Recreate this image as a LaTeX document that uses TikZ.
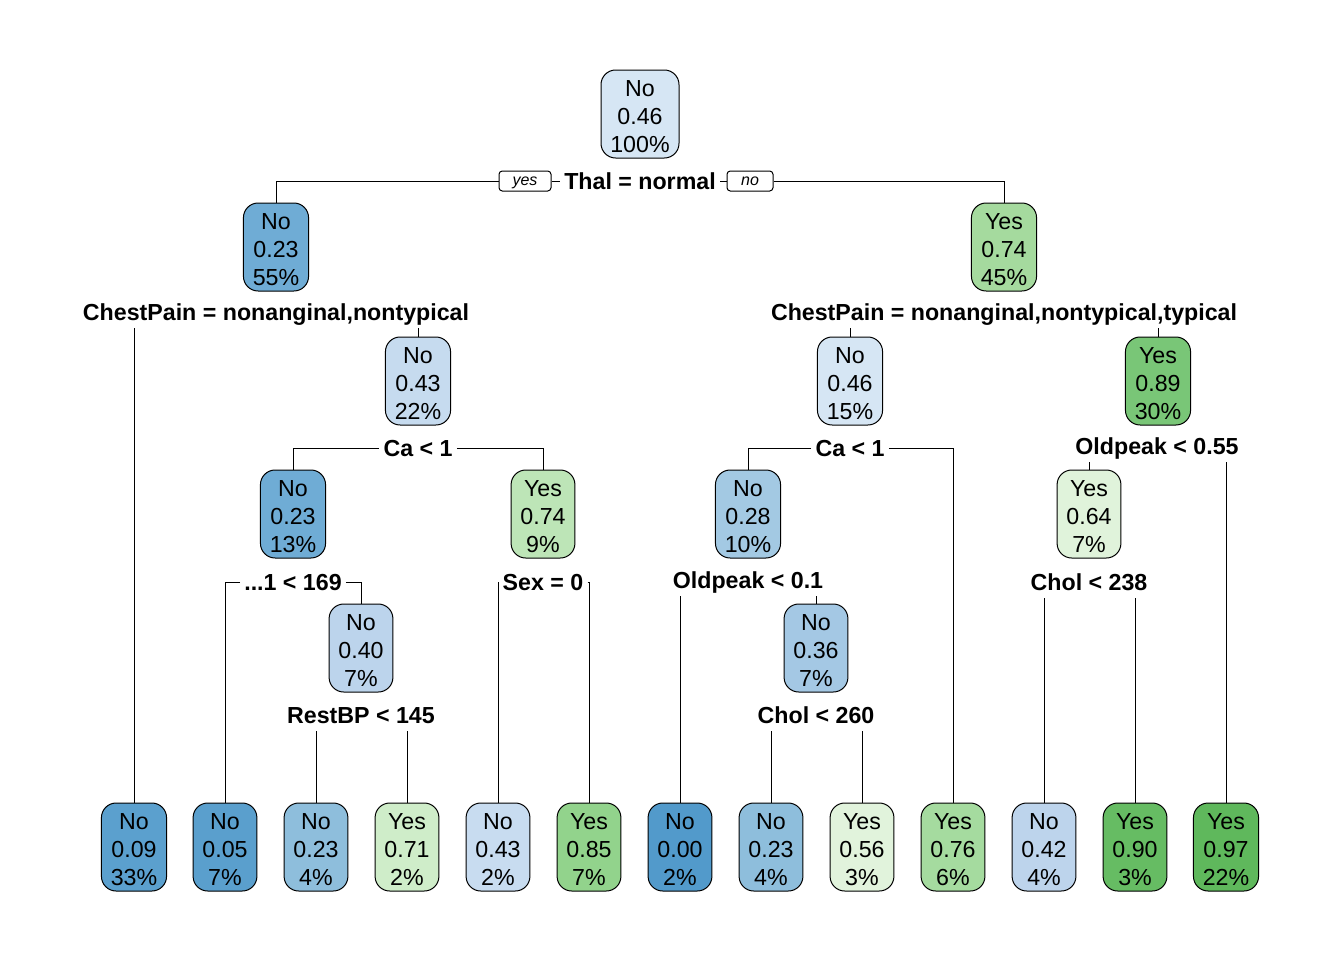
\documentclass[tikz,border=0pt]{standalone}
\usepackage{fontspec}
\setmainfont{Liberation Sans}
\newcommand{\fsz}{\fontsize{17.4}{21}\selectfont}
\newcommand{\ynfs}{\fontsize{12}{14}\selectfont}
\newcommand{\tstr}{\rule{0pt}{16pt}}
\definecolor{cA}{HTML}{D6E6F4}
\definecolor{cB}{HTML}{6FACD5}
\definecolor{cC}{HTML}{A5DA9E}
\definecolor{cD}{HTML}{C6DBEF}
\definecolor{cE}{HTML}{79C677}
\definecolor{cF}{HTML}{BDE5B7}
\definecolor{cG}{HTML}{A3C9E3}
\definecolor{cH}{HTML}{E0F3DB}
\definecolor{cI}{HTML}{BCD4EC}
\definecolor{cJ}{HTML}{A4C8E4}
\definecolor{lA}{HTML}{5BA0CE}
\definecolor{lB}{HTML}{5A9FCD}
\definecolor{lC}{HTML}{8EBEDC}
\definecolor{lD}{HTML}{CFEDC9}
\definecolor{lE}{HTML}{C8DCF0}
\definecolor{lF}{HTML}{92D38C}
\definecolor{lG}{HTML}{529ACB}
\definecolor{lH}{HTML}{E1F3DC}
\definecolor{lI}{HTML}{A5DB9F}
\definecolor{lJ}{HTML}{BDD4EC}
\definecolor{lK}{HTML}{66BC63}
\definecolor{lL}{HTML}{5FB85C}
\tikzset{
  tn/.style={draw=black, line width=0.75pt, rounded corners=11pt, align=center,
    minimum height=66pt, inner xsep=7pt, inner ysep=0pt, font=\fsz},
  sl/.style={font=\fsz\bfseries, text height=12.5pt, text depth=0pt,
    inner xsep=3pt, inner ysep=5.7pt},
  yn/.style={draw=black, line width=0.75pt, rounded corners=2.5pt, fill=white,
    font=\ynfs\itshape, text height=6.4pt, text depth=0pt, minimum height=15pt, inner ysep=0pt},
  br/.style={line width=0.75pt}
}
\begin{document}
\begin{tikzpicture}[x=0.75pt,y=-0.75pt]
\useasboundingbox (0,0) rectangle (1344,960);
% internal nodes
\node[tn, fill=cA] (n1) at (640,114) {\tstr No\\0.46\\100\%};
\node[tn, fill=cB] (n2) at (276,247) {\tstr No\\0.23\\55\%};
\node[tn, fill=cC] (n3) at (1004,247) {\tstr Yes\\0.74\\45\%};
\node[tn, fill=cD] (n4) at (418,381) {\tstr No\\0.43\\22\%};
\node[tn, fill=cA] (n5) at (850,381) {\tstr No\\0.46\\15\%};
\node[tn, fill=cE] (n6) at (1158,381) {\tstr Yes\\0.89\\30\%};
\node[tn, fill=cB] (n7) at (293,514) {\tstr No\\0.23\\13\%};
\node[tn, fill=cF] (n8) at (543,514) {\tstr Yes\\0.74\\9\%};
\node[tn, fill=cG] (n9) at (748,514) {\tstr No\\0.28\\10\%};
\node[tn, fill=cH] (n10) at (1089,514) {\tstr Yes\\0.64\\7\%};
\node[tn, fill=cI] (n11) at (361,648) {\tstr No\\0.40\\7\%};
\node[tn, fill=cJ] (n12) at (816,648) {\tstr No\\0.36\\7\%};
% leaves
\node[tn, fill=lA] (f1) at (134,847) {\tstr No\\0.09\\33\%};
\node[tn, fill=lB] (f2) at (225,847) {\tstr No\\0.05\\7\%};
\node[tn, fill=lC] (f3) at (316,847) {\tstr No\\0.23\\4\%};
\node[tn, fill=lD] (f4) at (407,847) {\tstr Yes\\0.71\\2\%};
\node[tn, fill=lE] (f5) at (498,847) {\tstr No\\0.43\\2\%};
\node[tn, fill=lF] (f6) at (589,847) {\tstr Yes\\0.85\\7\%};
\node[tn, fill=lG] (f7) at (680,847) {\tstr No\\0.00\\2\%};
\node[tn, fill=lC] (f8) at (771,847) {\tstr No\\0.23\\4\%};
\node[tn, fill=lH] (f9) at (862,847) {\tstr Yes\\0.56\\3\%};
\node[tn, fill=lI] (f10) at (953,847) {\tstr Yes\\0.76\\6\%};
\node[tn, fill=lJ] (f11) at (1044,847) {\tstr No\\0.42\\4\%};
\node[tn, fill=lK] (f12) at (1135,847) {\tstr Yes\\0.90\\3\%};
\node[tn, fill=lL] (f13) at (1226,847) {\tstr Yes\\0.97\\22\%};
% split labels
\node[sl] (s1) at (640,181) {Thal = normal};
\node[sl] (s2) at (276,312) {ChestPain = nonanginal,nontypical};
\node[sl] (s3) at (1004,312) {ChestPain = nonanginal,nontypical,typical};
\node[sl] (s4) at (418,448) {Ca < 1};
\node[sl] (s5) at (850,448) {Ca < 1};
\node[sl] (s6) at (1157,446) {Oldpeak < 0.55};
\node[sl] (s7) at (293,582) {...1 < 169};
\node[sl] (s8) at (543,582) {Sex = 0};
\node[sl] (s9) at (748,580) {Oldpeak < 0.1};
\node[sl] (s10) at (1089,582) {Chol < 238};
\node[sl] (s11) at (361,715) {RestBP < 145};
\node[sl] (s12) at (816,715) {Chol < 260};
% yes / no
\node[yn, minimum width=39pt] (yes) at (525,181) {yes};
\node[yn, minimum width=34.5pt] (no) at (750,181) {no};
% branches
\draw[br] (n2.north) |- (yes.west);
\draw[br] (yes.east) -- (s1.west);
\draw[br] (s1.east) -- (no.west);
\draw[br] (no.east) -| (n3.north);
\draw[br] (s2.south -| f1.north) -- (f1.north);
\draw[br] (s2.south -| n4.north) -- (n4.north);
\draw[br] (s3.south -| n5.north) -- (n5.north);
\draw[br] (s3.south -| n6.north) -- (n6.north);
\draw[br] (s4.west) -| (n7.north);
\draw[br] (s4.east) -| (n8.north);
\draw[br] (s5.west) -| (n9.north);
\draw[br] (s5.east) -| (f10.north);
\draw[br] (s6.south -| n10.north) -- (n10.north);
\draw[br] (s6.south -| f13.north) -- (f13.north);
\draw[br] (s7.west) -| (f2.north);
\draw[br] (s7.east) -| (n11.north);
\draw[br] (s8.west) -| (f5.north);
\draw[br] (s8.east) -| (f6.north);
\draw[br] (s9.south -| f7.north) -- (f7.north);
\draw[br] (s9.south -| n12.north) -- (n12.north);
\draw[br] (s10.south -| f11.north) -- (f11.north);
\draw[br] (s10.south -| f12.north) -- (f12.north);
\draw[br] (s11.south -| f3.north) -- (f3.north);
\draw[br] (s11.south -| f4.north) -- (f4.north);
\draw[br] (s12.south -| f8.north) -- (f8.north);
\draw[br] (s12.south -| f9.north) -- (f9.north);
\end{tikzpicture}
\end{document}
